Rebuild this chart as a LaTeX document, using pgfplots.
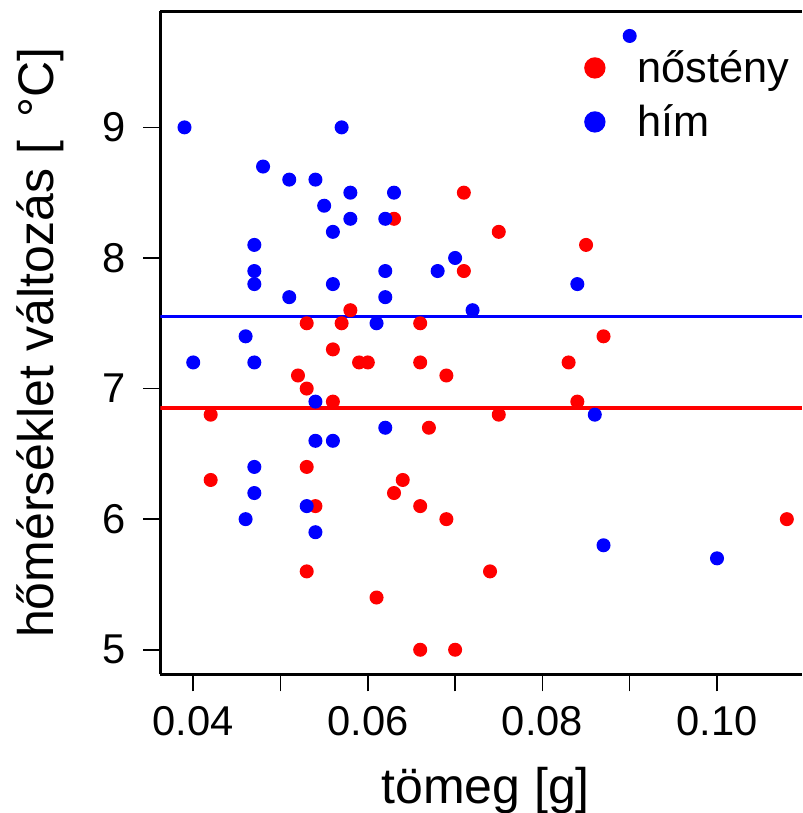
\documentclass[border=0pt]{standalone}
\usepackage{fontspec}
\setmainfont{Liberation Sans}
\usepackage{pgfplots}
\usepackage{pgfplotstable}
\pgfplotsset{compat=1.18}
\usetikzlibrary{calc}

\pgfplotstableread{
x y
0.063 8.3
0.071 8.5
0.075 8.2
0.085 8.1
0.087 7.4
0.058 7.6
0.053 7.5
0.057 7.5
0.056 7.3
0.059 7.2
0.060 7.2
0.052 7.1
0.053 7.0
0.056 6.9
0.042 6.8
0.071 7.9
0.066 7.5
0.066 7.2
0.083 7.2
0.069 7.1
0.084 6.9
0.075 6.8
0.067 6.7
0.053 6.4
0.042 6.3
0.054 6.1
0.053 5.6
0.061 5.4
0.064 6.3
0.063 6.2
0.066 6.1
0.069 6.0
0.074 5.6
0.066 5.0
0.070 5.0
0.108 6.0
}\females

\pgfplotstableread{
x y
0.039 9.0
0.057 9.0
0.048 8.7
0.051 8.6
0.054 8.6
0.058 8.5
0.063 8.5
0.055 8.4
0.058 8.3
0.062 8.3
0.056 8.2
0.047 8.1
0.047 7.9
0.062 7.9
0.068 7.9
0.070 8.0
0.047 7.8
0.056 7.8
0.084 7.8
0.051 7.7
0.062 7.7
0.072 7.6
0.061 7.5
0.046 7.4
0.040 7.2
0.047 7.2
0.054 6.9
0.062 6.7
0.086 6.8
0.054 6.6
0.056 6.6
0.047 6.4
0.047 6.2
0.053 6.1
0.046 6.0
0.054 5.9
0.087 5.8
0.100 5.7
0.090 9.7
}\males

\begin{document}
\begin{tikzpicture}
\begin{axis}[
  name=ax,
  at={(0,0)}, anchor=south west,
  scale only axis,
  width=192.52pt, height=198.88pt,
  xmin=0.03625, xmax=0.10976, ymin=4.812, ymax=9.888,
  axis x line*=box, axis y line*=left,
  axis line style={-, line width=0.9pt, black},
  xtick pos=left,
  tick align=outside,
  major tick length=5.1pt,
  every tick/.style={black, line width=0.45pt},
  xtick={0.04,0.05,0.06,0.07,0.08,0.09,0.10},
  xticklabels={0.04,,0.06,,0.08,,0.10},
  ytick={5,6,7,8,9},
  yticklabels={5,6,7,8,9},
  xticklabel shift=4.2pt,
  yticklabel shift=5.2pt,
  xticklabel style={font=\fontsize{12.5}{15}\selectfont, inner sep=0pt, anchor=north},
  yticklabel style={font=\fontsize{12.5}{15}\selectfont, inner sep=0pt, anchor=east},
  xlabel={tömeg [g]},
  ylabel={hőmérséklet változás [\hspace{0.45em}°C]},
  xlabel style={at={(rel axis cs:0.5066,0)}, anchor=base, yshift=-38.7pt, font=\fontsize{15}{18}\selectfont, inner sep=0pt},
  every axis y label/.style={at={(rel axis cs:0,0.5)}, xshift=-31.95pt, rotate=90, anchor=base, font=\fontsize{15}{18}\selectfont, inner sep=0pt},
  legend cell align=left,
  legend style={draw=none, fill=none, inner sep=0pt, outer sep=0pt,
    at={(axis cs:0.084788,9.6593)}, anchor=north west,
    font=\fontsize{13}{16}\selectfont, row sep=0.2pt,
    nodes={inner sep=0pt, text height=12.5pt, text depth=3.5pt},
    /tikz/every odd column/.append style={column sep=9.6pt}},
  clip=true,
]
\addplot[only marks, mark=*, mark size=1.9pt, color=red, mark options={draw=none, fill=red},
  legend image code/.code={\fill[red] (0pt,0pt) circle (3pt);}] table[x=x, y=y] {\females};
\addlegendentry{nőstény}
\addplot[only marks, mark=*, mark size=1.9pt, color=blue, mark options={draw=none, fill=blue},
  legend image code/.code={\fill[blue] (0pt,0pt) circle (3pt);}] table[x=x, y=y] {\males};
\addlegendentry{hím}
\addplot[red, line width=1pt, forget plot] coordinates {(0.03625,6.85) (0.10976,6.85)};
\addplot[blue, line width=1pt, forget plot] coordinates {(0.03625,7.55) (0.10976,7.55)};
\end{axis}
\pgfresetboundingbox
\path ($(ax.south west)+(-48.15pt,-41.61pt)$) rectangle ($(ax.north east)+(0pt,3.42pt)$);
\end{tikzpicture}
\end{document}
